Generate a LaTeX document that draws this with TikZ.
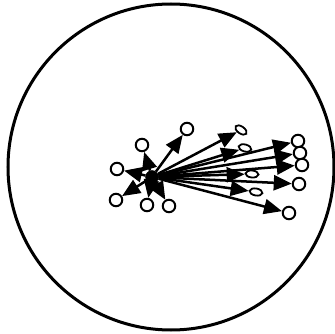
\documentclass[tikz,border=0pt]{standalone}
\usetikzlibrary{arrows.meta,shapes.geometric}
\begin{document}
\begin{tikzpicture}[x=1pt,y=-1pt,
  vtx/.style={circle,draw=black,fill=white,line width=2pt,inner sep=0pt,minimum size=12.5pt},
  flat/.style={ellipse,draw=black,fill=white,line width=1.8pt,inner sep=0pt,minimum width=13pt,minimum height=7pt},
  hub/.style={circle,draw=black,fill=black,inner sep=0pt,minimum size=13pt},
  arr/.style={line width=2.5pt,-{Triangle[length=18pt,width=15pt]}},
  ring/.style={draw=black,line width=3pt}]
\useasboundingbox (0,0) rectangle (335,334);
\node[ring,circle,minimum size=326pt,inner sep=0pt] (outer) at (171,167) {};
% target nodes
\node[vtx] (a1) at (187,129) {};
\node[flat,rotate=-35] (e1) at (241,130) {};
\node[flat,rotate=-15] (e2) at (245,148) {};
\node[vtx] (r1) at (298,141) {};
\node[vtx] (r2) at (300,153) {};
\node[vtx] (r3) at (302,165) {};
\node[flat,rotate=-5] (e3) at (252,174) {};
\node[vtx] (r4) at (299,184) {};
\node[flat,rotate=-10] (e4) at (256,192) {};
\node[vtx] (r5) at (289,213) {};
\node[vtx] (l1) at (142,145) {};
\node[vtx] (l2) at (117,169) {};
\node[vtx] (l3) at (116,200) {};
\node[vtx] (l4) at (147,205) {};
\node[vtx] (l5) at (169,206) {};
\node[hub] (c) at (152,177) {};
% arrows
\foreach \t in {a1,e1,e2,r1,r2,r3,e3,r4,e4,r5,l1,l2,l3,l4,l5}
  \draw[arr] (c) -- (\t);
\end{tikzpicture}
\end{document}
